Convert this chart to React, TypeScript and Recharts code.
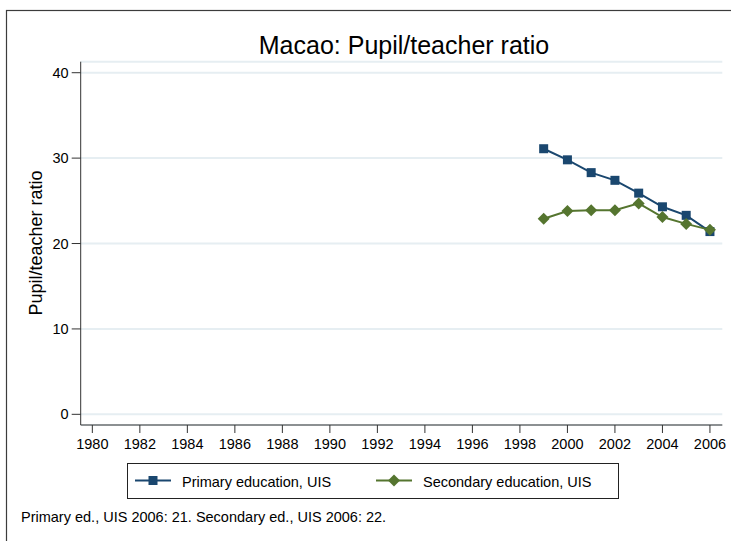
import { LineChart, Line, XAxis, YAxis, CartesianGrid } from "recharts";

const years = [1999, 2000, 2001, 2002, 2003, 2004, 2005, 2006];
const primary = [31.1, 29.8, 28.3, 27.4, 25.9, 24.3, 23.3, 21.4];
const secondary = [22.9, 23.8, 23.9, 23.9, 24.7, 23.1, 22.3, 21.6];
const xTicks = [1980, 1982, 1984, 1986, 1988, 1990, 1992, 1994, 1996, 1998, 2000, 2002, 2004, 2006];
const yTicks = [0, 10, 20, 30, 40];

const NAVY = "#1a476f";
const GREEN = "#55752f";
const FONT = "'Liberation Sans', Arial, Helvetica, sans-serif";

const data = years.map((year, i) => ({ year, primary: primary[i], secondary: secondary[i] }));

function Square(props: any) {
  const { cx, cy, index } = props;
  if (cx == null || cy == null) return null;
  return <rect key={`sq-${index}`} x={cx - 4.5} y={cy - 4.5} width={9} height={9} fill={NAVY} />;
}

function Diamond(props: any) {
  const { cx, cy, index } = props;
  if (cx == null || cy == null) return null;
  const r = 6;
  return (
    <polygon
      key={`dm-${index}`}
      points={`${cx},${cy - r} ${cx + r},${cy} ${cx},${cy + r} ${cx - r},${cy}`}
      fill={GREEN}
    />
  );
}

export default function App() {
  return (
    <div style={{ position: "absolute", left: 0, top: 0, width: 731, height: 541, background: "#fff", fontFamily: FONT }}>
      <LineChart
        width={731}
        height={541}
        data={data}
        margin={{ top: 61.7, right: 8.7, bottom: 86, left: 20.7 }}
        style={{ fontFamily: FONT }}
      >
        <CartesianGrid horizontal vertical={false} stroke="#e6eef2" strokeWidth={2} />
        <XAxis
          dataKey="year"
          type="number"
          domain={[1979.51, 2006.52]}
          allowDataOverflow
          ticks={xTicks}
          interval={0}
          height={30}
          tickSize={8}
          tickMargin={6}
          stroke="#333"
          tick={{ fontSize: 14.5, fill: "#000" }}
        />
        <YAxis
          type="number"
          domain={[-1.25, 41.29]}
          allowDataOverflow
          ticks={yTicks}
          interval={0}
          width={60}
          tickSize={9}
          tickMargin={3}
          stroke="#333"
          tick={{ fontSize: 14.5, fill: "#000" }}
        />
        <Line
          dataKey="primary"
          stroke={NAVY}
          strokeWidth={2}
          dot={<Square />}
          activeDot={false}
          isAnimationActive={false}
        />
        <Line
          dataKey="secondary"
          stroke={GREEN}
          strokeWidth={2}
          dot={<Diamond />}
          activeDot={false}
          isAnimationActive={false}
        />
      </LineChart>

      <svg
        width={731}
        height={541}
        style={{ position: "absolute", left: 0, top: 0, pointerEvents: "none", fontFamily: FONT }}
      >
        {/* graph frame, open at right and bottom like the source */}
        <rect x={6.5} y={10.5} width={900} height={900} fill="none" stroke="#3c3c3c" strokeWidth={1.2} />

        <text x={404} y={54} textAnchor="middle" fontSize={25} fill="#000">
          Macao: Pupil/teacher ratio
        </text>

        <text transform="translate(42,243) rotate(-90)" textAnchor="middle" fontSize={18} fill="#000">
          Pupil/teacher ratio
        </text>

        {/* legend */}
        <rect x={127.5} y={463.5} width={491} height={35} fill="#fff" stroke="#222" strokeWidth={1} />
        <line x1={135} y1={480.5} x2={171} y2={480.5} stroke={NAVY} strokeWidth={2} />
        <rect x={148.5} y={476} width={9} height={9} fill={NAVY} />
        <text x={182} y={487} fontSize={14.5} fill="#000">Primary education, UIS</text>

        <line x1={376} y1={480.5} x2={412} y2={480.5} stroke={GREEN} strokeWidth={2} />
        <polygon points="394,474.5 400,480.5 394,486.5 388,480.5" fill={GREEN} />
        <text x={423} y={487} fontSize={14.5} fill="#000">Secondary education, UIS</text>

        <text x={21} y={522} fontSize={14.5} fill="#000">
          Primary ed., UIS 2006: 21. Secondary ed., UIS 2006: 22.
        </text>
      </svg>
    </div>
  );
}
